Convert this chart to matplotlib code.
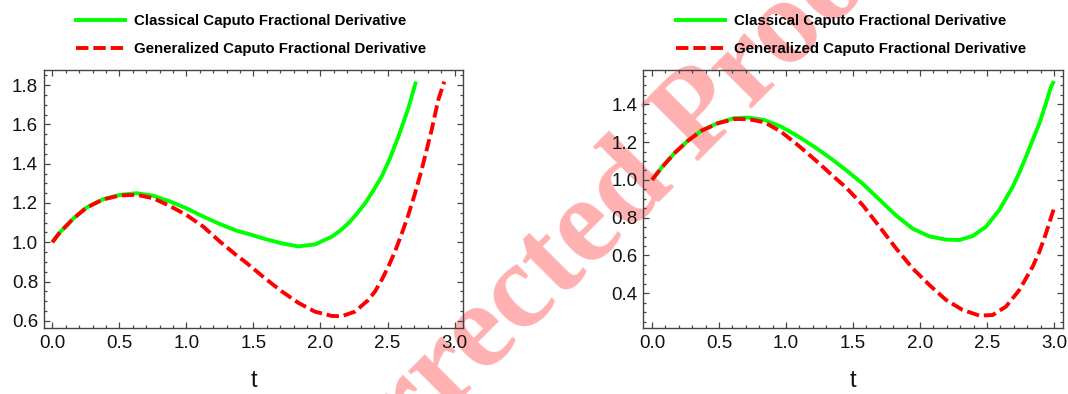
import matplotlib
matplotlib.use("Agg")
import matplotlib.pyplot as plt
from matplotlib.ticker import MultipleLocator
from matplotlib.lines import Line2D

# ---------------- data ----------------
t_left_classical = [0.000, 0.055, 0.154, 0.254, 0.378, 0.503, 0.627, 0.752, 0.876, 1.000,
                    1.125, 1.249, 1.373, 1.460, 1.585, 1.709, 1.834, 1.958, 2.083, 2.145,
                    2.207, 2.270, 2.332, 2.393, 2.456, 2.518, 2.581, 2.655, 2.712]
y_left_classical = [1.000, 1.049, 1.119, 1.176, 1.219, 1.241, 1.250, 1.237, 1.208, 1.173,
                    1.131, 1.093, 1.059, 1.043, 1.017, 0.995, 0.979, 0.989, 1.028, 1.058,
                    1.096, 1.144, 1.198, 1.262, 1.334, 1.427, 1.538, 1.682, 1.818]

t_left_general = [0.000, 0.055, 0.154, 0.254, 0.378, 0.503, 0.627, 0.752, 0.876, 1.000,
                  1.125, 1.249, 1.373, 1.448, 1.585, 1.709, 1.834, 1.958, 2.083, 2.157,
                  2.257, 2.356, 2.406, 2.456, 2.506, 2.555, 2.605, 2.655, 2.705, 2.754,
                  2.829, 2.878, 2.923]
y_left_general = [1.000, 1.049, 1.119, 1.176, 1.218, 1.238, 1.242, 1.224, 1.185, 1.139,
                  1.080, 1.004, 0.934, 0.895, 0.817, 0.751, 0.692, 0.647, 0.625, 0.623,
                  0.647, 0.706, 0.749, 0.808, 0.876, 0.952, 1.042, 1.139, 1.249, 1.368,
                  1.572, 1.724, 1.818]

t_right_classical = [0.000, 0.067, 0.167, 0.266, 0.366, 0.490, 0.614, 0.714, 0.838, 0.963,
                     1.087, 1.211, 1.336, 1.448, 1.572, 1.697, 1.821, 1.945, 2.070, 2.194,
                     2.294, 2.393, 2.493, 2.592, 2.692, 2.741, 2.791, 2.841, 2.891, 2.940,
                     2.978, 3.000]
y_right_classical = [1.000, 1.061, 1.141, 1.206, 1.259, 1.301, 1.327, 1.330, 1.317, 1.282,
                     1.232, 1.175, 1.113, 1.052, 0.980, 0.896, 0.812, 0.742, 0.701, 0.684,
                     0.682, 0.703, 0.753, 0.841, 0.964, 1.038, 1.123, 1.211, 1.299, 1.405,
                     1.493, 1.523]

t_right_general = [0.000, 0.067, 0.167, 0.266, 0.366, 0.490, 0.614, 0.714, 0.838, 0.963,
                   1.087, 1.211, 1.336, 1.448, 1.572, 1.697, 1.821, 1.945, 2.070, 2.194,
                   2.318, 2.443, 2.542, 2.642, 2.741, 2.841, 2.891, 2.940, 3.000]
y_right_general = [1.000, 1.061, 1.141, 1.206, 1.259, 1.299, 1.322, 1.322, 1.305, 1.255,
                   1.185, 1.110, 1.030, 0.960, 0.867, 0.753, 0.638, 0.532, 0.444, 0.365,
                   0.312, 0.282, 0.285, 0.330, 0.417, 0.541, 0.620, 0.717, 0.850]

label_classical = "Classical Caputo Fractional Derivative"
label_general = "Generalized Caputo Fractional Derivative"
x_ticks = [0.0, 0.5, 1.0, 1.5, 2.0, 2.5, 3.0]
y_ticks_left = [0.6, 0.8, 1.0, 1.2, 1.4, 1.6, 1.8]
y_ticks_right = [0.4, 0.6, 0.8, 1.0, 1.2, 1.4]
x_label = "t"
watermark = "Corrected Proof"

# ---------------- figure ----------------
W, H = 1068, 394
fig = plt.figure(figsize=(W / 100, H / 100), dpi=100)

GREEN = "#00FF00"
RED = "#FF0000"
FRAME = "#444444"
LW = 2.8
DASH = (3.2, 1.25)

fig.text(581 / W, 1 - 237 / H, watermark, rotation=45, rotation_mode="anchor",
         ha="center", va="center", fontsize=88, fontweight="bold",
         family="Liberation Serif", color="#FFB0B0", zorder=-5)


def make_panel(rect, tc, yc, tg, yg, ylim, yticks, legend_x):
    ax = fig.add_axes(rect)
    ax.set_facecolor("none")
    ax.plot(tc, yc, color=GREEN, lw=LW, solid_capstyle="butt",
            solid_joinstyle="round", zorder=3)
    ax.plot(tg, yg, color=RED, lw=LW, dashes=DASH, zorder=4)
    ax.set_xlim(-0.065, 3.065)
    ax.set_ylim(*ylim)
    ax.set_xticks(x_ticks)
    ax.set_xticklabels([f"{v:.1f}" for v in x_ticks])
    ax.set_yticks(yticks)
    ax.set_yticklabels([f"{v:.1f}" for v in yticks])
    ax.xaxis.set_minor_locator(MultipleLocator(0.1))
    ax.yaxis.set_minor_locator(MultipleLocator(0.05))
    ax.tick_params(which="both", direction="in", top=True, right=True,
                   color=FRAME, width=0.9)
    ax.tick_params(which="major", length=4.0, labelsize=13.5, labelcolor="#111111")
    ax.tick_params(which="minor", length=2.2)
    ax.tick_params(axis="x", which="major", pad=5)
    ax.tick_params(axis="y", which="major", pad=4)
    for lab in ax.get_xticklabels() + ax.get_yticklabels():
        lab.set_family("Liberation Sans")
    for s in ax.spines.values():
        s.set_color(FRAME)
        s.set_linewidth(1.0)
    ax.set_xlabel(x_label, fontsize=17, family="Liberation Sans", labelpad=13,
                  color="#111111")
    handles = [Line2D([], [], color=GREEN, lw=LW),
               Line2D([], [], color=RED, lw=LW, dashes=DASH)]
    ax.legend(handles, [label_classical, label_general], loc="upper left",
              bbox_to_anchor=(legend_x / W, 1 - 14 / H),
              bbox_transform=fig.transFigure, frameon=False,
              prop={"family": "Liberation Sans", "weight": "bold", "size": 10.8},
              handlelength=3.25, handletextpad=0.6, labelspacing=0.92,
              borderpad=0, borderaxespad=0)
    return ax


make_panel([43.6 / W, 1 - 328.3 / H, (463.3 - 43.6) / W, (328.3 - 70) / H],
           t_left_classical, y_left_classical, t_left_general, y_left_general,
           (0.562, 1.877), y_ticks_left, 76)
make_panel([643.3 / W, 1 - 328.3 / H, (1062.7 - 643.3) / W, (328.3 - 70) / H],
           t_right_classical, y_right_classical, t_right_general, y_right_general,
           (0.2148, 1.5815), y_ticks_right, 676)

fig.savefig("out.png", dpi=100)
